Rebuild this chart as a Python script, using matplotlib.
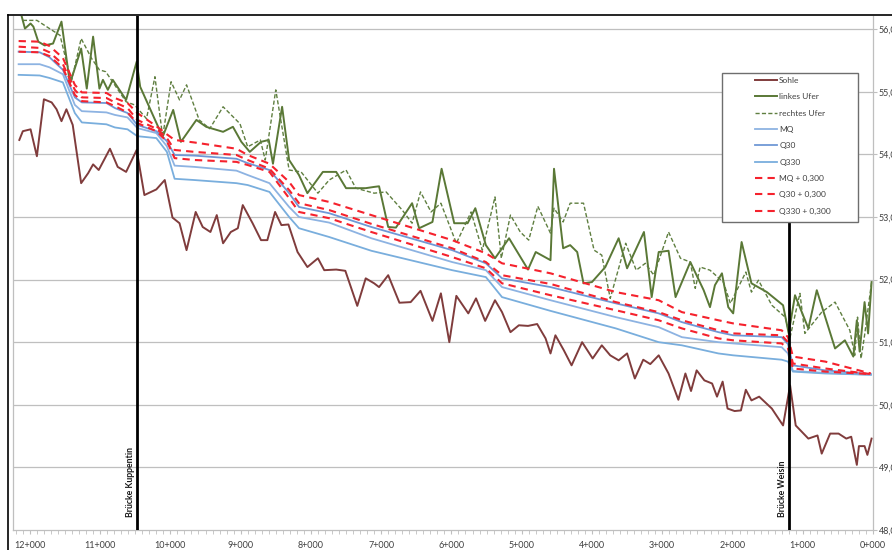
import matplotlib
matplotlib.use("Agg")
import matplotlib.pyplot as plt
from matplotlib.lines import Line2D
from matplotlib.patches import Rectangle
from matplotlib.ticker import FixedLocator, MultipleLocator

plt.rcParams['font.family'] = ['Lato', 'DejaVu Sans']

# ---------------- data ----------------
sohle_km = [12.15,12.10,11.99,11.90,11.80,11.69,11.62,11.55,11.48,11.39,
            11.27,11.17,11.10,11.02,10.86,10.75,10.63,10.48,10.37,10.20,
            10.08,9.97,9.87,9.77,9.64,9.54,9.43,9.34,9.25,9.14,
            9.04,8.97,8.83,8.71,8.62,8.51,8.42,8.32,8.19,8.05,
            7.90,7.81,7.64,7.51,7.34,7.22,7.10,7.03,6.90,6.74,
            6.58,6.44,6.27,6.15,6.03,5.93,5.76,5.65,5.52,5.38,
            5.28,5.16,5.04,4.91,4.78,4.66,4.59,4.52,4.40,4.29,
            4.14,3.99,3.86,3.74,3.62,3.50,3.39,3.27,3.17,3.05,
            2.91,2.77,2.67,2.59,2.51,2.40,2.29,2.22,2.14,2.07,
            1.97,1.88,1.81,1.73,1.62,1.44,1.28,1.18,1.10,0.92,
            0.79,0.73,0.61,0.49,0.38,0.31,0.23,0.20,0.12,0.08,0.02]
sohle_m = [54.23,54.37,54.40,53.97,54.88,54.83,54.72,54.53,54.72,54.47,
           53.54,53.70,53.84,53.75,54.09,53.80,53.72,54.07,53.35,53.44,
           53.59,52.99,52.90,52.47,53.08,52.84,52.76,53.03,52.58,52.76,
           52.82,53.19,52.90,52.63,52.63,53.08,52.87,52.88,52.44,52.20,
           52.34,52.15,52.16,52.14,51.58,52.02,51.94,51.88,52.07,51.63,
           51.64,51.82,51.34,51.78,51.00,51.74,51.46,51.70,51.34,51.67,
           51.48,51.16,51.27,51.26,51.29,51.06,50.82,51.11,50.87,50.63,
           51.00,50.74,50.95,50.79,50.71,50.82,50.42,50.72,50.65,50.79,
           50.50,50.08,50.50,50.22,50.55,50.39,50.34,50.13,50.37,49.94,
           49.90,49.91,50.24,50.07,50.13,49.94,49.67,50.31,49.67,49.46,
           49.51,49.22,49.54,49.54,49.46,49.49,49.04,49.34,49.34,49.20,49.46]

links_km = [12.12,12.07,11.99,11.95,11.88,11.79,11.67,11.55,11.43,11.27,
            11.19,11.10,11.01,10.96,10.89,10.82,10.63,10.48,10.43,10.11,
            9.96,9.85,9.63,9.49,9.25,9.11,8.99,8.87,8.71,8.60,
            8.54,8.41,8.31,8.17,8.05,7.83,7.64,7.50,7.22,7.10,
            7.03,6.90,6.79,6.56,6.46,6.27,6.14,5.96,5.77,5.66,
            5.51,5.38,5.18,4.91,4.80,4.59,4.54,4.41,4.31,4.21,
            4.12,4.00,3.81,3.62,3.50,3.26,3.15,3.05,2.91,2.81,
            2.60,2.41,2.32,2.25,2.15,2.06,1.99,1.87,1.73,1.51,
            1.28,1.20,1.11,0.92,0.80,0.54,0.40,0.28,0.23,0.19,0.12,0.07,0.02]
links_m = [56.22,56.01,56.09,56.04,55.80,55.74,55.77,56.12,55.13,55.69,
           55.05,55.88,55.05,55.19,55.03,55.19,54.87,55.48,55.08,54.28,
           54.71,54.20,54.55,54.44,54.36,54.44,54.20,54.04,54.20,54.23,
           53.85,54.76,53.91,53.67,53.38,53.72,53.72,53.46,53.46,53.48,
           53.49,52.84,52.83,53.22,52.82,52.92,53.77,52.90,52.90,53.14,
           52.55,52.34,52.66,52.16,52.44,52.31,53.77,52.50,52.55,52.44,
           51.94,51.96,52.20,52.66,52.18,52.76,51.72,52.44,52.46,51.72,
           52.28,51.83,51.56,51.91,52.10,51.56,51.46,52.60,51.94,51.80,
           51.59,51.14,51.75,51.22,51.83,50.90,51.03,50.77,51.35,50.85,51.64,51.14,51.96]

rechts_km = [12.10,11.90,11.57,11.41,11.27,11.12,11.01,10.92,10.63,10.51,
             10.34,10.22,10.11,9.99,9.87,9.77,9.59,9.44,9.25,9.01,
             8.90,8.72,8.65,8.50,8.31,8.14,7.90,7.74,7.50,7.36,
             7.10,6.93,6.70,6.56,6.44,6.29,6.15,5.93,5.72,5.56,
             5.38,5.29,5.16,5.02,4.90,4.77,4.59,4.54,4.41,4.31,
             4.12,3.97,3.86,3.74,3.52,3.37,3.24,3.12,2.91,2.74,
             2.60,2.53,2.46,2.32,2.13,2.03,1.81,1.73,1.63,1.44,
             1.25,1.18,1.04,0.97,0.73,0.54,0.33,0.26,0.22,0.17,0.12,0.02]
rechts_m = [56.14,56.14,55.90,55.16,55.85,55.53,55.35,55.32,54.84,54.79,
            54.57,55.24,54.28,55.16,54.87,55.11,54.55,54.41,54.76,54.49,
            54.12,54.23,53.91,55.03,53.75,53.72,53.38,53.59,53.75,53.46,
            53.38,53.40,53.11,52.90,53.40,53.08,53.22,52.58,53.08,52.47,
            53.32,52.34,53.03,52.76,52.63,53.17,52.74,53.14,52.92,53.22,
            53.22,52.47,52.39,51.70,52.58,52.15,52.26,52.07,52.76,52.34,
            52.28,51.86,52.20,52.15,51.96,51.62,52.12,51.80,51.99,51.59,
            51.40,51.08,51.78,51.14,51.48,51.64,51.19,50.79,51.40,50.74,51.11,51.96]

wsp_km = [12.16,11.86,11.72,11.53,11.36,11.26,10.91,10.79,10.61,10.47,
          10.20,10.05,9.94,9.66,9.06,8.90,8.59,8.31,8.17,7.74,
          7.14,5.99,5.51,5.28,4.59,3.66,3.05,2.72,2.20,1.99,
          1.30,1.21,1.14,0.68,0.03]
mq = [55.44,55.44,55.39,55.28,54.79,54.69,54.67,54.63,54.59,54.42,
      54.34,54.13,53.82,53.80,53.74,53.67,53.54,53.16,53.00,52.91,
      52.66,52.28,52.15,51.88,51.67,51.40,51.24,51.08,51.00,50.98,
      50.92,50.82,50.54,50.51,50.48]
q30 = [55.64,55.63,55.55,55.35,54.91,54.83,54.82,54.74,54.66,54.47,
       54.37,54.21,53.99,53.98,53.93,53.86,53.75,53.38,53.16,53.06,
       52.84,52.47,52.26,52.02,51.88,51.62,51.46,51.32,51.16,51.11,
       51.08,50.97,50.63,50.55,50.49]
q330 = [55.27,55.26,55.22,55.15,54.66,54.51,54.48,54.43,54.40,54.29,
        54.26,54.04,53.61,53.59,53.54,53.51,53.40,53.00,52.82,52.68,
        52.46,52.15,52.04,51.72,51.50,51.22,51.00,50.95,50.82,50.79,
        50.72,50.69,50.53,50.50,50.48]
mq_f = [55.72,55.70,55.63,55.44,55.03,54.91,54.90,54.83,54.74,54.55,
        54.41,54.26,54.07,54.04,53.99,53.91,53.77,53.43,53.22,53.11,
        52.89,52.50,52.28,52.07,51.93,51.64,51.48,51.35,51.19,51.14,
        51.11,51.00,50.66,50.58,50.49]
q30_f = [55.81,55.80,55.73,55.54,55.11,54.99,54.98,54.90,54.82,54.66,
         54.45,54.32,54.23,54.19,54.09,53.99,53.85,53.56,53.35,53.24,
         53.03,52.63,52.42,52.26,52.10,51.80,51.67,51.48,51.35,51.30,
         51.19,51.08,50.77,50.69,50.50]
q330_f = [55.64,55.63,55.57,55.38,54.95,54.85,54.83,54.77,54.67,54.50,
          54.37,54.21,53.94,53.91,53.88,53.83,53.72,53.30,53.08,52.98,
          52.76,52.36,52.18,51.94,51.75,51.51,51.35,51.22,51.06,51.03,
          50.98,50.90,50.58,50.53,50.49]

bridge_km = [10.48, 1.20]
bridge_names = ["Brücke Kuppentin", "Brücke Weisin"]
bridge_top = [56.3, 53.5]

x_ticks = list(range(0, 13))
y_ticks = list(range(48, 57))

# ---------------- figure ----------------
W, H = 892, 550
fig = plt.figure(figsize=(W / 100, H / 100), dpi=100)
ax = fig.add_axes([13 / W, 20 / H, (873 - 13) / W, (530 - 16) / H])
ax.set_xlim(12.24, 0)
ax.set_ylim(48, 56.21)

grid_c = '#BFBFBF'
for y in y_ticks[1:]:
    ax.axhline(y, color=grid_c, lw=0.9, zorder=0)

for s in ['left', 'right', 'bottom']:
    ax.spines[s].set_color(grid_c)
    ax.spines[s].set_linewidth(0.9)
ax.spines['top'].set_visible(False)

l_sohle, = ax.plot(sohle_km, sohle_m, color='#803C3C', lw=1.4, zorder=2)
l_links, = ax.plot(links_km, links_m, color='#5A7836', lw=1.4, zorder=2.1)
l_rechts, = ax.plot(rechts_km, rechts_m, color='#5F7F40', lw=1.0,
                    dashes=(3, 1.6), zorder=2.2)
l_mq, = ax.plot(wsp_km, mq, color='#8DB3E2', lw=1.3, zorder=2.3)
l_q30, = ax.plot(wsp_km, q30, color='#6F98D6', lw=1.3, zorder=2.3)
l_q330, = ax.plot(wsp_km, q330, color='#79AEDD', lw=1.3, zorder=2.3)
red = '#F5222D'
l_mqf, = ax.plot(wsp_km, mq_f, color=red, lw=1.5, dashes=(3.5, 2.5), zorder=2.5)
l_q30f, = ax.plot(wsp_km, q30_f, color=red, lw=1.5, dashes=(3.5, 2.5), zorder=2.5)
l_q330f, = ax.plot(wsp_km, q330_f, color=red, lw=1.5, dashes=(3.5, 2.5), zorder=2.5)

# bridges
for km, name, top in zip(bridge_km, bridge_names, bridge_top):
    ax.vlines(km, 48, top, color='black', lw=2, zorder=3)
    ax.annotate(name, xy=(km, 48.2), xytext=(-1.5, 0), textcoords='offset points',
                rotation=90, ha='right', va='bottom', fontsize=6.3,
                fontweight='bold', color='#1a1a1a', zorder=3)

# ticks
ax.xaxis.set_major_locator(FixedLocator(x_ticks))
ax.xaxis.set_minor_locator(MultipleLocator(0.1))
ax.set_xticklabels([f"{k}+000" for k in x_ticks])
ax.tick_params(axis='x', which='both', direction='out', length=3, color=grid_c,
               labelsize=6.5, labelcolor='#404040', pad=5)
ax.yaxis.set_major_locator(FixedLocator(y_ticks))
ax.yaxis.tick_right()
ax.set_yticklabels([f"{v:.2f}".replace('.', ',') for v in y_ticks])
ax.tick_params(axis='y', which='both', direction='out', length=3, color=grid_c,
               labelsize=6.5, labelcolor='#404040', pad=1)

# legend box
rect = Rectangle((722 / W, 1 - 221.7 / H), (858 - 722) / W, (221.7 - 73) / H,
                 transform=fig.transFigure, facecolor='white', edgecolor='#6E6E6E',
                 lw=1.0, zorder=4, clip_on=False)
ax.add_patch(rect)
handles = [l_sohle, l_links, l_rechts, l_mq, l_q30, l_q330, l_mqf, l_q30f, l_q330f]
labels = ["Sohle", "linkes Ufer", "rechtes Ufer", "MQ", "Q30", "Q330",
          "MQ + 0,300", "Q30 + 0,300", "Q330 + 0,300"]
leg = ax.legend(handles, labels, loc='upper left',
                bbox_to_anchor=(755 / W, 1 - 77 / H), bbox_transform=fig.transFigure,
                frameon=False, fontsize=6, handlelength=2.6, handletextpad=0.3,
                labelspacing=1.12, borderpad=0, borderaxespad=0)
leg.set_zorder(5)
for t in leg.get_texts():
    t.set_color('#404040')

# outer chart border (top and left)
fig.add_artist(Line2D([8 / W, 1], [1 - 15 / H, 1 - 15 / H], color='black', lw=1.2))
fig.add_artist(Line2D([8 / W, 8 / W], [0, 1 - 15 / H], color='black', lw=1.2))

fig.savefig("out.png", dpi=100)
